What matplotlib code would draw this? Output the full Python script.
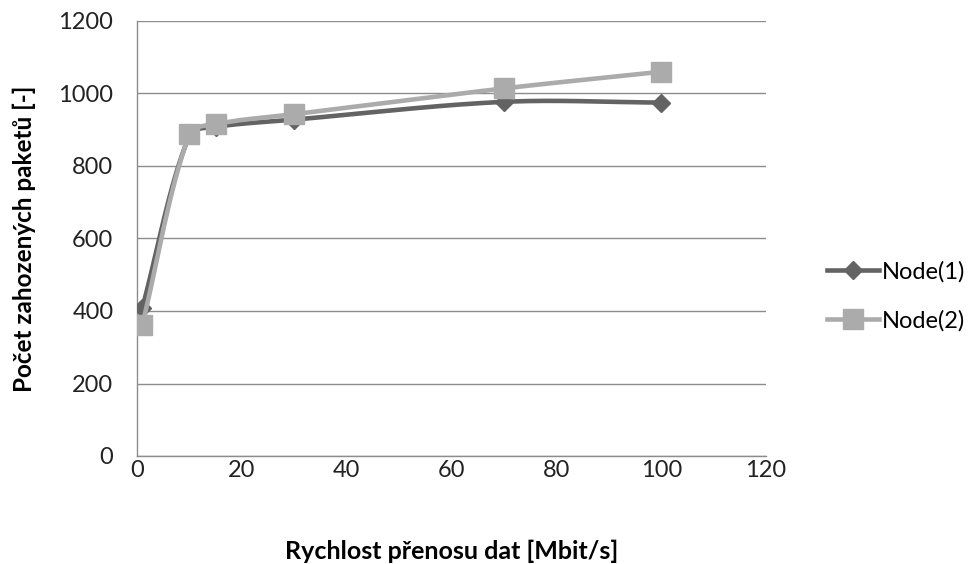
import numpy as np
import matplotlib
matplotlib.use("Agg")
import matplotlib.pyplot as plt
from matplotlib.lines import Line2D

x_vals = [1, 10, 15, 30, 70, 100]
node1 = [408, 885, 908, 928, 977, 975]
node2 = [361, 888, 916, 943, 1014, 1060]
series_names = ["Node(1)", "Node(2)"]
x_ticks = [0, 20, 40, 60, 80, 100, 120]
y_ticks = [0, 200, 400, 600, 800, 1000, 1200]

plt.rcParams['font.family'] = ['Lato', 'DejaVu Sans']

fig = plt.figure(figsize=(9.75, 5.64), dpi=100)
ax = fig.add_axes([137/975, 1-456/564, (766-137)/975, (456-21)/564])
ax.set_xlim(0, 120)
ax.set_ylim(0, 1200)

def smooth(xs, ys, n=40):
    # smoothed line computed in display space (length-weighted Catmull-Rom Bezier)
    pts = ax.transData.transform(np.column_stack([xs, ys]))
    k = len(pts)
    out = []
    for i in range(k - 1):
        p0 = pts[max(i-1, 0)]; p1 = pts[i]; p2 = pts[i+1]; p3 = pts[min(i+2, k-1)]
        d01 = np.linalg.norm(p1 - p0); d12 = np.linalg.norm(p2 - p1); d23 = np.linalg.norm(p3 - p2)
        t1 = (p2 - p0) * (d12 / (d01 + d12)) if d01 > 0 else (p2 - p1)
        t2 = (p3 - p1) * (d12 / (d12 + d23)) if d23 > 0 else (p2 - p1)
        c1 = p1 + t1 / 3.0
        c2 = p2 - t2 / 3.0
        t = np.linspace(0, 1, n)[:, None]
        seg = ((1-t)**3)*p1 + 3*((1-t)**2)*t*c1 + 3*(1-t)*t**2*c2 + t**3*p2
        out.append(seg)
    out = np.vstack(out)
    data = ax.transData.inverted().transform(out)
    return data[:, 0], data[:, 1]

c1 = '#636363'
c2 = '#ababab'
lw = 3.3

sx, sy = smooth(x_vals, node1)
ax.plot(sx, sy, color=c1, lw=lw, solid_capstyle='round', zorder=3)
ax.plot(x_vals, node1, linestyle='none', marker='D', color=c1, markersize=9, zorder=4)
sx, sy = smooth(x_vals, node2)
ax.plot(sx, sy, color=c2, lw=lw, solid_capstyle='round', zorder=5)
ax.plot(x_vals, node2, linestyle='none', marker='s', color=c2, markersize=14, zorder=6)

ax.set_xticks(x_ticks)
ax.set_yticks(y_ticks)
ax.tick_params(axis='both', length=0, labelsize=17, colors='#222222')
ax.tick_params(axis='y', pad=17)
ax.tick_params(axis='x', pad=3)
ax.yaxis.grid(True, color='#8c8c8c', lw=1)
ax.set_axisbelow(True)
for s in ['top', 'right']:
    ax.spines[s].set_visible(False)
for s in ['left', 'bottom']:
    ax.spines[s].set_color('#8c8c8c')
    ax.spines[s].set_linewidth(1)

ax.set_xlabel('Rychlost přenosu dat [Mbit/s]', fontsize=18, fontweight='bold', labelpad=42)
ax.set_ylabel('Počet zahozených paketů [-]', fontsize=17.5, fontweight='bold', labelpad=16)

handles = [Line2D([0], [0], color=c1, lw=lw, marker='D', markersize=9),
           Line2D([0], [0], color=c2, lw=lw, marker='s', markersize=14)]
fig.legend(handles, series_names, loc='center left', bbox_to_anchor=(818/975, 1-296/564),
           frameon=False, fontsize=17, handlelength=2.2, handletextpad=0.1, labelspacing=1.15,
           borderaxespad=0)

fig.savefig('out.png', dpi=100, facecolor='white')
